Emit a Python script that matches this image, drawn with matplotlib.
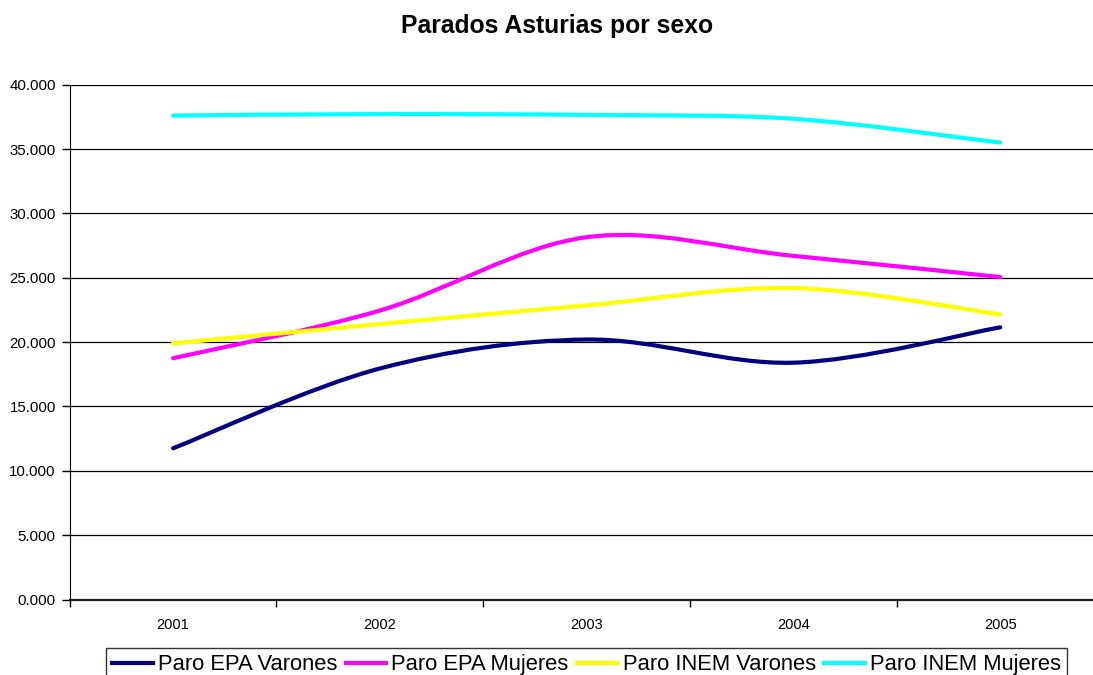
import matplotlib
matplotlib.use("Agg")
import matplotlib.pyplot as plt
from matplotlib.path import Path
from matplotlib.patches import PathPatch
from matplotlib.lines import Line2D
from matplotlib.ticker import FuncFormatter, FixedLocator

plt.rcParams['font.family'] = ['Liberation Sans', 'DejaVu Sans']

title = "Parados Asturias por sexo"
years = ["2001", "2002", "2003", "2004", "2005"]
series_names = ["Paro EPA Varones", "Paro EPA Mujeres", "Paro INEM Varones", "Paro INEM Mujeres"]
epa_varones = [11750, 17950, 20200, 18400, 21150]
epa_mujeres = [18750, 22450, 28150, 26700, 25050]
inem_varones = [19900, 21400, 22850, 24200, 22150]
inem_mujeres = [37600, 37720, 37650, 37350, 35500]
colors = ["#000080", "#FF00FF", "#FFFF00", "#00FFFF"]
y_ticks = [0, 5000, 10000, 15000, 20000, 25000, 30000, 35000, 40000]

W, H = 1093, 675
fig = plt.figure(figsize=(W / 100, H / 100), dpi=100)
left_px, right_px, top_px, bot_px = 69.7, 1103.7, 84.7, 599.5
ax = fig.add_axes([left_px / W, 1 - bot_px / H, (right_px - left_px) / W, (bot_px - top_px) / H])


def smooth_path(xs, ys):
    # Excel-style smoothed line: cubic Bezier with Catmull-Rom control points
    n = len(xs)
    verts = [(xs[0], ys[0])]
    codes = [Path.MOVETO]
    for i in range(n - 1):
        i0 = max(i - 1, 0)
        i3 = min(i + 2, n - 1)
        c1 = (xs[i] + (xs[i + 1] - xs[i0]) / 6.0, ys[i] + (ys[i + 1] - ys[i0]) / 6.0)
        c2 = (xs[i + 1] - (xs[i3] - xs[i]) / 6.0, ys[i + 1] - (ys[i3] - ys[i]) / 6.0)
        verts += [c1, c2, (xs[i + 1], ys[i + 1])]
        codes += [Path.CURVE4, Path.CURVE4, Path.CURVE4]
    return Path(verts, codes)


xpos = list(range(len(years)))
all_series = [epa_varones, epa_mujeres, inem_varones, inem_mujeres]
for vals, col in zip(all_series, colors):
    patch = PathPatch(smooth_path(xpos, vals), facecolor='none', edgecolor=col,
                      lw=3.0, capstyle='round', joinstyle='round', zorder=3)
    ax.add_patch(patch)

ax.set_xlim(-0.5, len(years) - 0.5)
ax.set_ylim(0, 40000)

# y axis
ax.set_yticks(y_ticks)
ax.yaxis.set_major_formatter(FuncFormatter(lambda v, p: f"{v/1000:.3f}"))
ax.tick_params(axis='y', direction='out', length=6, width=1, pad=4, labelsize=10.8, colors='black')
ax.yaxis.grid(True, color='black', linewidth=0.9)
ax.set_axisbelow(True)

# x axis: ticks between categories, labels at categories
ax.xaxis.set_major_locator(FixedLocator([i - 0.5 for i in range(len(years) + 1)]))
ax.xaxis.set_minor_locator(FixedLocator(xpos))
ax.set_xticklabels([""] * (len(years) + 1))
ax.set_xticklabels(years, minor=True)
ax.tick_params(axis='x', which='major', direction='out', length=5, width=1)
ax.tick_params(axis='x', which='minor', length=0, pad=13, labelsize=10.5)

for s in ['top', 'right']:
    ax.spines[s].set_visible(False)
ax.spines['left'].set_color('black')
ax.spines['bottom'].set_color('#202020')
ax.spines['bottom'].set_linewidth(1.6)

fig.text(557 / W, 1 - 32.7 / H, title, ha='center', va='baseline', fontsize=17.8, fontweight='bold')

handles = [Line2D([], [], color=c, lw=3.0) for c in colors]
leg = fig.legend(handles, series_names, loc='upper left', bbox_to_anchor=(106 / W, 1 - 648.3 / H),
                 bbox_transform=fig.transFigure, ncol=4, fontsize=15.8, frameon=True,
                 handlelength=1.86, handletextpad=0.23, columnspacing=0.38, borderpad=0.27,
                 fancybox=False, edgecolor='black', borderaxespad=0)
leg.get_frame().set_linewidth(1.0)

fig.savefig("out.png", dpi=100)
